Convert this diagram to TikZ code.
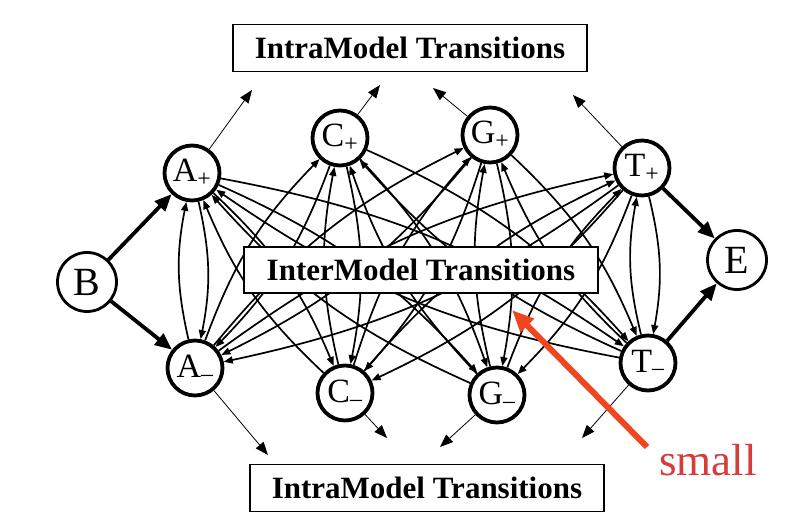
\documentclass[tikz,border=0pt]{standalone}
\usepackage{fontspec}
\setmainfont{Liberation Serif}
\usetikzlibrary{arrows.meta}
\definecolor{redarrow}{RGB}{240,70,30}
\definecolor{redtext}{RGB}{215,60,60}
\begin{document}
\begin{tikzpicture}[x=1pt,y=-1pt,
  state/.style={circle,draw,line width=3.8pt,minimum size=55pt,inner sep=0pt,
    font=\fontsize{34}{34}\selectfont},
  endst/.style={circle,draw,line width=2.8pt,minimum size=59pt,inner sep=0pt,
    font=\fontsize{40}{40}\selectfont},
  tbox/.style={draw,line width=1.8pt,fill=white,inner sep=0pt,
    font=\bfseries\fontsize{31}{31}\selectfont,minimum width=354pt,minimum height=47pt},
  inter/.style={line width=1.7pt,-{Triangle[length=9pt,width=7pt]},bend left=12},
  intra/.style={line width=0.8pt,-{Triangle[length=13pt,width=10pt]}},
  thickarr/.style={line width=3.8pt,-{Triangle[length=17pt,width=14pt]}},
  redarr/.style={line width=6pt,draw=redarrow,-{Triangle[length=22pt,width=18pt]}}
]
\useasboundingbox (0,0) rectangle (807,529);

% states
\node[endst] (B) at (87,282) {B};
\node[endst] (E) at (737,260) {E};
\node[state] (Ap) at (192,173) {A\textsubscript{+}};
\node[state] (Cp) at (340,138) {C\textsubscript{+}};
\node[state] (Gp) at (490,135) {G\textsubscript{+}};
\node[state] (Tp) at (642,168) {T\textsubscript{+}};
\node[state] (Am) at (195,368) {A\textsubscript{--}};
\node[state] (Cm) at (345,393) {C\textsubscript{--}};
\node[state] (Gm) at (497,395) {G\textsubscript{--}};
\node[state] (Tm) at (648,363) {T\textsubscript{--}};

% inter-model transitions
\foreach \a in {Ap,Cp,Gp,Tp}{
  \foreach \b in {Am,Cm,Gm,Tm}{
    \draw[inter] (\a) to (\b);
    \draw[inter] (\b) to (\a);
  }
}

% begin / end transitions
\draw[thickarr] (B) -- (Ap);
\draw[thickarr] (B) -- (Am);
\draw[thickarr] (Tp) -- (E);
\draw[thickarr] (Tm) -- (E);

% intra-model arrows
\coordinate (iAp) at (252,90);
\coordinate (iCp) at (380,85);
\coordinate (iGp) at (433,88);
\coordinate (iTp) at (573,95);
\coordinate (iAm) at (268,455);
\coordinate (iCm) at (387,438);
\coordinate (iGm) at (440,447);
\coordinate (iTm) at (582,438);
\draw[intra] (Ap) -- (iAp);
\draw[intra] (Cp) -- (iCp);
\draw[intra] (Gp) -- (iGp);
\draw[intra] (Tp) -- (iTp);
\draw[intra] (Am) -- (iAm);
\draw[intra] (Cm) -- (iCm);
\draw[intra] (Gm) -- (iGm);
\draw[intra] (Tm) -- (iTm);

% boxes
\node[tbox] (top) at (410,48) {IntraModel Transitions};
\node[tbox,minimum height=46pt] (mid) at (421,270) {InterModel Transitions};
\node[tbox] (bot) at (427,488) {IntraModel Transitions};

% annotation
\node[anchor=base west,inner sep=0pt,text=redtext,font=\fontsize{45}{45}\selectfont] (small) at (659,476) {small};
\coordinate (rtail) at (647,447);
\coordinate (rtip) at (512,310);
\draw[redarr] (rtail) -- (rtip);
\end{tikzpicture}
\end{document}
